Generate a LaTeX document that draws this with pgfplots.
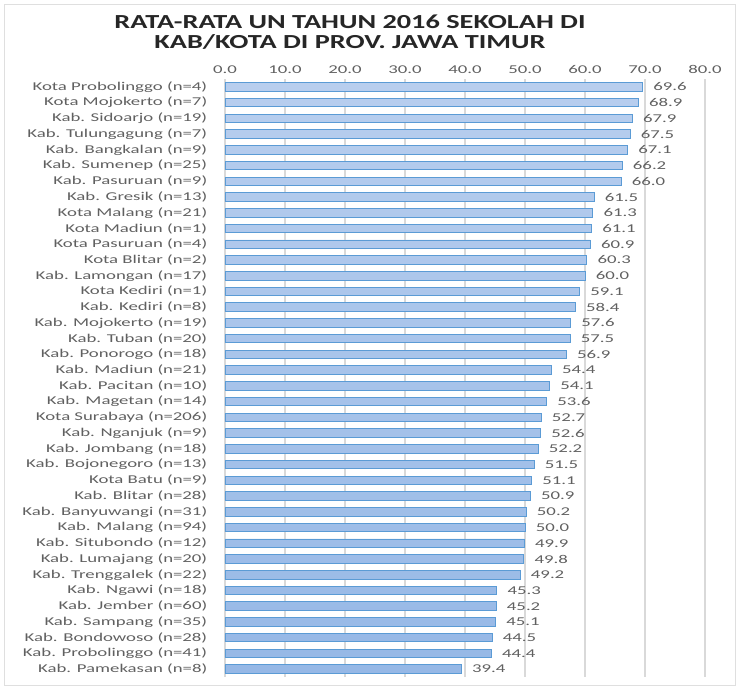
\documentclass[border=0pt]{standalone}
\usepackage{fontspec}
\setmainfont{Carlito}[FakeStretch=1.57]
\newfontfamily\titlefont{Carlito}[FakeStretch=1.42]
\usepackage{pgfplots}
\pgfplotsset{compat=1.18}
\definecolor{bartop}{RGB}{184,206,238}
\definecolor{barbot}{RGB}{150,184,230}
\definecolor{barline}{RGB}{91,155,213}
\definecolor{txtgrey}{RGB}{96,96,96}
\definecolor{gridgrey}{RGB}{217,217,217}

\pgfplotstableread{
idx val
0 69.6
1 68.9
2 67.9
3 67.5
4 67.1
5 66.2
6 66.0
7 61.5
8 61.3
9 61.1
10 60.9
11 60.3
12 60.0
13 59.1
14 58.4
15 57.6
16 57.5
17 56.9
18 54.4
19 54.1
20 53.6
21 52.7
22 52.6
23 52.2
24 51.5
25 51.1
26 50.9
27 50.2
28 50.0
29 49.9
30 49.8
31 49.2
32 45.3
33 45.2
34 45.1
35 44.5
36 44.4
37 39.4
}\untable

\begin{document}
\begin{tikzpicture}
\useasboundingbox (-225bp,-11bp) rectangle (513bp,677bp);
\draw[gray!25, line width=1bp] (-220bp,-8bp) rectangle (510bp,672bp);
\begin{axis}[
  at={(0bp,0bp)}, anchor=south west,
  scale only axis, width=480bp, height=598bp,
  xmin=0, xmax=80, xtick={0,10,...,80},
  ymin=-0.5, ymax=37.5, y dir=reverse,
  ytick={0,...,37},
  yticklabels={{Kota Probolinggo (n=4)},{Kota Mojokerto (n=7)},{Kab. Sidoarjo (n=19)},{Kab. Tulungagung (n=7)},{Kab. Bangkalan (n=9)},{Kab. Sumenep (n=25)},{Kab. Pasuruan (n=9)},{Kab. Gresik (n=13)},{Kota Malang (n=21)},{Kota Madiun (n=1)},{Kota Pasuruan (n=4)},{Kota Blitar (n=2)},{Kab. Lamongan (n=17)},{Kota Kediri (n=1)},{Kab. Kediri (n=8)},{Kab. Mojokerto (n=19)},{Kab. Tuban (n=20)},{Kab. Ponorogo (n=18)},{Kab. Madiun (n=21)},{Kab. Pacitan (n=10)},{Kab. Magetan (n=14)},{Kota Surabaya (n=206)},{Kab. Nganjuk (n=9)},{Kab. Jombang (n=18)},{Kab. Bojonegoro (n=13)},{Kota Batu (n=9)},{Kab. Blitar (n=28)},{Kab. Banyuwangi (n=31)},{Kab. Malang (n=94)},{Kab. Situbondo (n=12)},{Kab. Lumajang (n=20)},{Kab. Trenggalek (n=22)},{Kab. Ngawi (n=18)},{Kab. Jember (n=60)},{Kab. Sampang (n=35)},{Kab. Bondowoso (n=28)},{Kab. Probolinggo (n=41)},{Kab. Pamekasan (n=8)}},
  xticklabel pos=upper,
  axis line style={draw=none},
  tick style={draw=none},
  xmajorgrids, grid style={gridgrey, line width=1.2bp},
  ticklabel style={font=\fontsize{12}{13}\selectfont, text=txtgrey},
  yticklabel style={xshift=-10bp},
  xticklabel style={yshift=2bp},
  /pgf/number format/assume math mode=true,
  xticklabel={\pgfmathprintnumber[fixed,fixed zerofill,precision=1]{\tick}},
  xbar, bar width=8.5bp,
  nodes near coords,
  nodes near coords style={font=\fontsize{12}{13}\selectfont, text=txtgrey, anchor=west, xshift=7bp,
    /pgf/number format/.cd, fixed, fixed zerofill, precision=1, assume math mode=true},
]
\addplot[draw=barline, line width=0.9bp, top color=bartop, bottom color=barbot] table[x=val, y=idx] {\untable};
\end{axis}
\node[align=center, font=\titlefont\bfseries\fontsize{20}{19.5}\selectfont, text=black!85] at (125bp,645bp)
  {RATA-RATA UN TAHUN 2016 SEKOLAH DI\\KAB/KOTA DI PROV. JAWA TIMUR};
\end{tikzpicture}
\end{document}
